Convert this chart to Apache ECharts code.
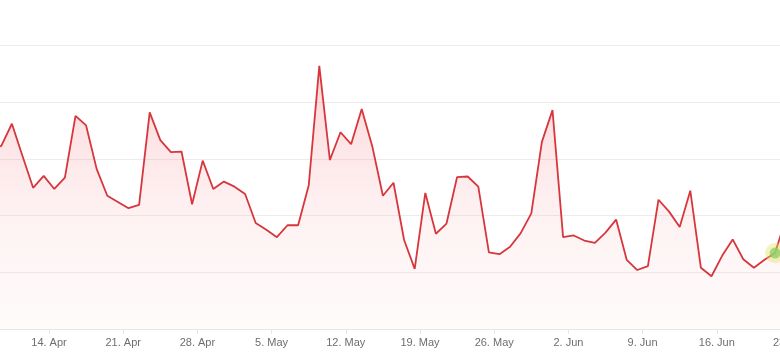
<!DOCTYPE html>
<html>
<head>
<meta charset="utf-8">
<script src="https://cdn.jsdelivr.net/npm/echarts@6/dist/echarts.min.js"></script>
<style>
html,body{margin:0;padding:0;background:#fff;}
#c{width:780px;height:361px;}
</style>
</head>
<body>
<div id="c"></div>
<script>
// Daily series, first value is 8 Apr
const startDate = '2024-04-08';
const values = [
  3.16, 3.23, 3.62, 3.05, 2.49, 2.70, 2.47, 2.67, 3.76, 3.59,
  2.82, 2.35, 2.24, 2.13, 2.19, 3.82, 3.33, 3.12, 3.13, 2.20,
  2.97, 2.47, 2.60, 2.51, 2.38, 1.87, 1.75, 1.62, 1.83, 1.83,
  2.53, 4.64, 2.98, 3.47, 3.26, 3.88, 3.22, 2.35, 2.58, 1.57,
  1.06, 2.40, 1.68, 1.86, 2.68, 2.69, 2.51, 1.35, 1.32, 1.45,
  1.69, 2.04, 3.30, 3.86, 1.62, 1.65, 1.56, 1.52, 1.70, 1.93,
  1.22, 1.04, 1.11, 2.28, 2.07, 1.80, 2.44, 1.08, 0.93, 1.29,
  1.58, 1.23, 1.08, 1.22, 1.34, 1.94
];
// highlighted point
const highlightDates = ['2024-06-21'];
const highlightValues = [1.34];
// x tick reference (labels every 7 days from this date)
const tickBase = '2024-04-14';
const monthNames = ['Jan','Feb','Mar','Apr','May','Jun','Jul','Aug','Sep','Oct','Nov','Dec'];

const DAY = 86400000;
const base = Date.parse(tickBase + 'T00:00:00Z');
const start = Date.parse(startDate + 'T00:00:00Z');
function dayIdx(ms){ return (ms - base) / DAY + 0.5; }

const lineData = values.map((v, i) => [dayIdx(start + i * DAY), v]);
const hiData = highlightDates.map((d, i) => [dayIdx(Date.parse(d + 'T00:00:00Z')), highlightValues[i]]);

const chart = echarts.init(document.getElementById('c'));
chart.setOption({
  animation: false,
  backgroundColor: '#ffffff',
  grid: { left: -25.2, right: -85.2, top: 45.5, bottom: 32, containLabel: false, outerBoundsMode: 'none' },
  xAxis: {
    type: 'value',
    min: -7, max: 77, interval: 7,
    axisLine: { show: true, lineStyle: { color: '#e6e6e6', width: 1 } },
    axisTick: { show: true, length: 5, lineStyle: { color: '#e6e6e6' } },
    splitLine: { show: false },
    axisLabel: {
      margin: 8,
      color: '#6e6e6e',
      fontSize: 11,
      fontFamily: 'Liberation Sans, Arial, sans-serif',
      showMinLabel: true, showMaxLabel: true,
      formatter: function (d) {
        const dt = new Date(base + d * DAY);
        return dt.getUTCDate() + '. ' + monthNames[dt.getUTCMonth()];
      }
    }
  },
  yAxis: {
    type: 'value',
    min: 0, max: 5, interval: 1,
    axisLine: { show: false },
    axisTick: { show: false },
    axisLabel: { show: false },
    splitLine: { lineStyle: { color: '#ececec', width: 1 } }
  },
  series: [
    {
      type: 'line',
      data: lineData,
      showSymbol: false,
      clip: true,
      lineStyle: { color: '#d6363c', width: 1.8 },
      itemStyle: { color: '#d6363c' },
      areaStyle: {
        color: new echarts.graphic.LinearGradient(0, 0, 0, 1, [
          { offset: 0, color: 'rgba(245,110,115,0.42)' },
          { offset: 0.5, color: 'rgba(248,150,155,0.22)' },
          { offset: 1, color: 'rgba(250,200,200,0.10)' }
        ])
      },
      z: 2
    },
    {
      type: 'scatter',
      data: hiData,
      symbolSize: 20,
      itemStyle: { color: 'rgba(228,222,90,0.5)' },
      silent: true,
      z: 3
    },
    {
      type: 'scatter',
      data: hiData,
      symbolSize: 11,
      itemStyle: { color: '#8fcf68' },
      silent: true,
      z: 4
    }
  ]
});
</script>
</body>
</html>
